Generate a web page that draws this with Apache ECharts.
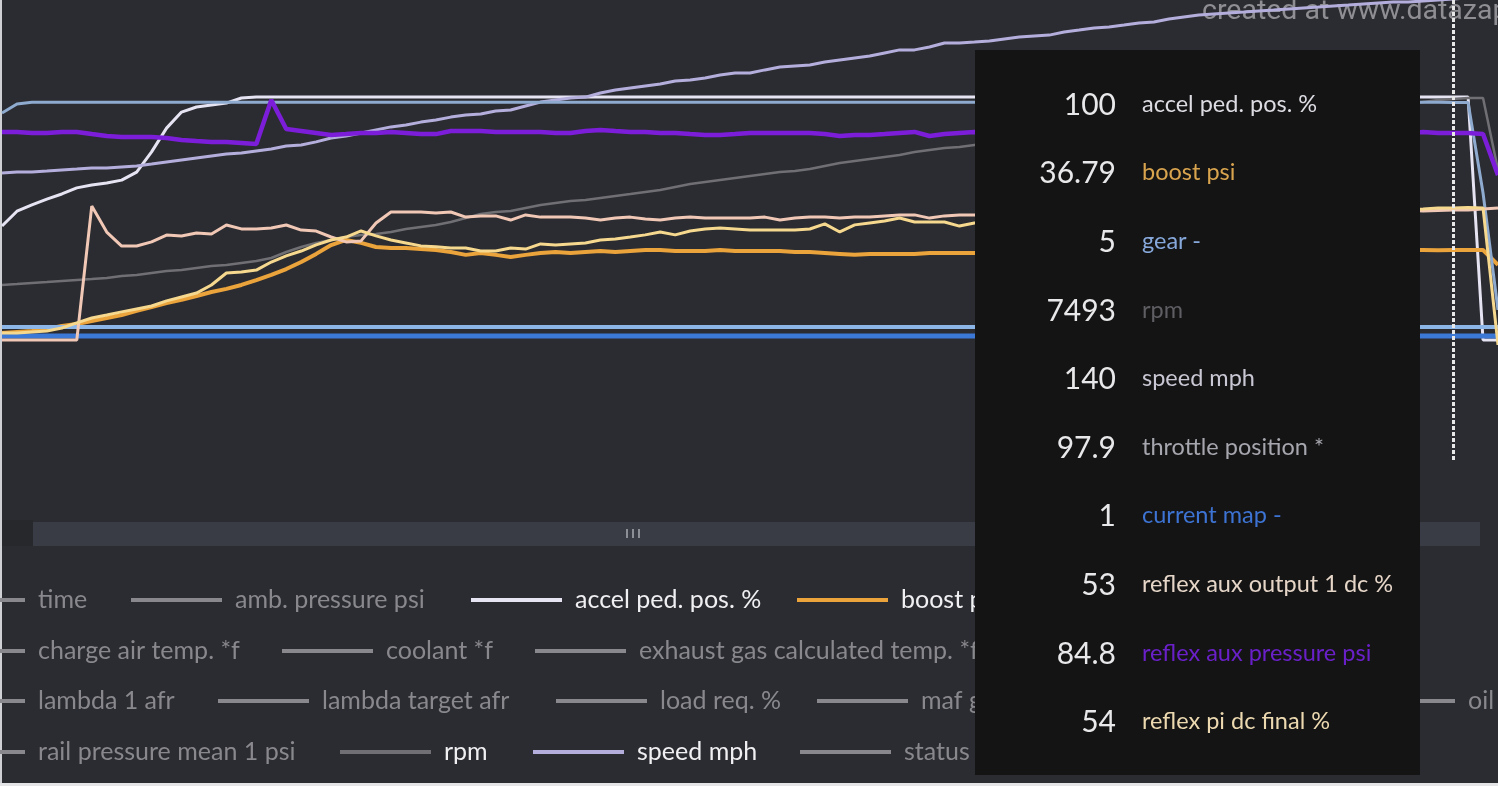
<!DOCTYPE html>
<html>
<head>
<meta charset="utf-8">
<script src="https://cdn.jsdelivr.net/npm/echarts@6/dist/echarts.min.js"></script>
<style>
html,body{margin:0;padding:0;background:#2b2c31;overflow:hidden}
#c{width:1498px;height:786px}
</style>
</head>
<body>
<div id="c"></div>
<script>
// ---------------- DATA ----------------
const samples = [0,1,2,3,4,5,6,7,8,9,10,11,12,13,14,15,16,17,18,19,20,21,22,23,24,25,26,27,28,29,30,31,32,33,34,35,36,37,38,39,40,41,42,43,44,45,46,47,48,49,50,51,52,53,54,55,56,57,58,59,60,61,62,63,64,65,66,67,68,69,70,71,72,73,74,75,76,77,78,79,80,81,82,83,84,85,86,87,88,89,90,91,92,93,94,95,96,97,98,99,100];

const accelPedPos = [46.9,53.0,55.6,58.0,60.1,62.6,63.8,64.6,65.8,69.1,77.4,87.2,93.8,95.9,96.7,97.5,99.6,
100,100,100,100,100,100,100,100,100,100,
100,100,100,100,100,100,100,100,100,100,
100,100,100,100,100,100,100,100,100,100,
100,100,100,100,100,100,100,100,100,100,
100,100,100,100,100,100,100,100,100,100,
100,100,100,100,100,100,100,100,100,100,
100,100,100,100,100,100,100,100,100,100,
100,100,100,100,100,100,100,100,100,100,
100,100,
0,0];

const boostPsi = [2.9,3.3,3.7,4.5,5.7,6.5,7.8,9.0,10.2,11.9,
13.5,15.1,16.4,18.0,19.6,20.9,22.5,24.5,26.6,29.0,
31.9,35.2,38.8,40.9,39.7,38.0,37.6,37.6,37.2,36.8,
36.0,34.8,35.6,34.8,33.9,34.8,35.6,36.0,35.6,36.0,
36.4,36.0,36.4,36.8,36.8,36.4,36.4,36.4,36.8,36.4,
36.4,36.4,36.4,36.0,36.0,35.6,35.2,34.8,35.2,35.2,
35.2,35.2,35.6,35.6,35.6,35.6,35.6,35.4,35.8,36.0,
35.7,35.9,36.1,35.8,36.2,36.0,36.3,36.1,35.9,36.2,
36.4,36.3,36.5,36.2,36.4,36.6,36.5,36.7,36.4,36.6,
36.8,36.7,36.9,36.6,36.8,36.8,36.7,36.79,36.8,36.8,
30.7];

const gear = [5,5,5,5,5,5,5,5,5,5, 5,5,5,5,5,5,5,5,5,5, 5,5,5,5,5,5,5,5,5,5, 5,5,5,5,5,5,5,5,5,5,
5,5,5,5,5,5,5,5,5,5, 5,5,5,5,5,5,5,5,5,5, 5,5,5,5,5,5,5,5,5,5, 5,5,5,5,5,5,5,5,5,5,
5,5,5,5,5,5,5,5,5,5, 5,5,5,5,5,5,5,5,5,5, 5];

const rpm = [3500,3521,3543,3564,3586,3607,3628,3650,3693,3714,
3757,3800,3822,3865,3908,3929,3972,4015,4079,4208,
4316,4401,4466,4530,4573,4595,4638,4702,4745,4788,
4852,4938,5024,5067,5088,5153,5217,5260,5303,5325,
5368,5411,5453,5496,5539,5604,5668,5711,5754,5797,
5840,5883,5926,5947,5990,6055,6119,6162,6205,6248,
6291,6355,6398,6441,6462,6505,6548,6569,6591,6634,
6656,6699,6720,6763,6785,6806,6849,6870,6892,6935,
6956,6999,7021,7042,7085,7107,7150,7171,7192,7235,
7257,7278,7321,7343,7386,7429,7472,7493,7514,7514,
5969];

const speedMph = [60.0,60.5,60.5,60.9,61.4,61.8,62.3,62.3,62.8,63.2,
64.1,65.1,66.0,66.9,67.8,68.7,69.2,70.1,71.0,72.4,
72.9,74.3,76.1,77.0,78.4,79.8,81.2,82.1,83.4,84.4,
85.7,86.7,87.1,88.5,89.0,90.8,92.6,93.6,94.5,94.9,
96.8,98.2,99.1,100.0,100.9,102.3,102.8,103.7,105.1,106.0,
106.0,107.4,108.7,109.2,109.7,111.0,112.0,112.9,113.8,115.2,
116.6,116.6,117.9,119.8,119.8,120.2,120.7,121.6,122.5,123.0,
123.4,124.8,125.7,126.7,127.1,128.0,129.0,129.4,130.8,131.7,
132.6,133.1,133.6,134.0,134.5,134.9,135.4,135.9,136.3,136.8,
137.2,137.7,138.2,138.6,138.6,139.1,139.5,140,140.5,140.5,
140.9];

const throttlePos = [93.6,97.3,
98.0,98.0,98.0,98.0,98.0,98.0,98.0,98.0,98.0,98.0,
98.0,98.0,98.0,98.0,98.0,98.0,98.0,98.0,98.0,98.0,
98.0,98.0,98.0,98.0,98.0,98.0,98.0,98.0,98.0,98.0,
98.0,98.0,98.0,98.0,98.0,98.0,98.0,98.0,98.0,98.0,
98.0,98.0,98.0,98.0,98.0,98.0,98.0,98.0,98.0,98.0,
98.0,98.0,98.0,98.0,98.0,98.0,98.0,98.0,98.0,98.0,
98.0,98.0,98.0,98.0,98.0,98.0,98.0,98.0,98.0,98.0,
98.0,98.0,98.0,98.0,98.0,98.0,98.0,98.0,98.0,98.0,
98.0,98.0,98.0,98.0,98.0,98.0,98.0,98.0,98.0,98.0,
98.0,98.0,98.0,98.0,98.0,
97.9,97.9,60.6,12.4];

const currentMap = [1,1,1,1,1,1,1,1,1,1, 1,1,1,1,1,1,1,1,1,1, 1,1,1,1,1,1,1,1,1,1, 1,1,1,1,1,1,1,1,1,1,
1,1,1,1,1,1,1,1,1,1, 1,1,1,1,1,1,1,1,1,1, 1,1,1,1,1,1,1,1,1,1, 1,1,1,1,1,1,1,1,1,1,
1,1,1,1,1,1,1,1,1,1, 1,1,1,1,1,1,1,1,1,1, 1];

const reflexAuxOutput = [0,0,0,0,0,0,54.6,44.0,38.3,38.3,
40.0,42.8,42.4,43.6,43.2,46.9,45.3,45.3,45.7,46.9,
44.8,44.4,42.0,40.0,40.4,47.7,52.2,52.2,52.2,51.8,
52.2,50.1,50.6,50.6,48.9,51.0,50.1,50.1,50.1,49.7,
48.9,49.7,50.1,49.3,48.9,49.7,50.1,49.7,49.7,49.7,
49.7,50.1,48.9,49.7,50.1,50.1,49.7,50.1,50.1,50.6,
51.0,51.0,49.7,50.6,51.0,51.0,50.6,51.0,51.4,50.8,
51.2,51.0,51.6,51.3,51.0,51.8,51.5,51.2,51.9,51.6,
52.0,51.7,52.2,51.9,52.3,52.0,52.4,52.1,52.6,52.3,
52.7,52.4,52.8,52.5,52.9,52.6,52.8,53,53.0,53.4,
53.8];

const reflexAuxPressure = [85.3,85.3,84.8,84.8,85.3,85.3,84.3,83.4,83.0,83.0,
83.0,82.5,81.6,81.1,80.7,80.7,80.2,79.7,100.0,86.6,
85.7,84.8,83.9,84.3,84.8,84.8,85.3,84.8,84.3,84.3,
85.7,85.7,85.7,85.3,85.3,85.3,85.3,84.8,84.8,85.7,
86.2,85.7,85.3,85.3,84.8,84.8,84.3,83.9,83.9,84.3,
84.8,84.8,84.8,84.8,84.8,84.3,83.4,83.9,83.9,84.3,
84.8,85.3,83.4,84.3,84.8,85.3,85.0,84.6,84.9,85.2,
84.7,84.4,84.8,85.1,84.9,84.5,84.8,85.0,84.6,84.9,
85.2,84.8,84.5,84.7,85.0,84.9,84.6,84.8,85.1,84.7,
84.9,84.6,84.8,85.0,84.7,85.3,84.8,84.8,84.8,84.3,
65.4];

const reflexPiDcFinal = [2.9,2.9,3.3,3.7,4.9,7.0,9.0,10.2,11.5,12.7,
13.9,16.0,17.6,19.2,22.5,27.4,27.8,28.6,31.9,34.4,
36.4,38.9,40.9,42.1,44.6,42.6,40.9,39.7,38.5,38.1,
37.6,37.6,36.4,36.4,37.6,37.2,39.3,38.9,39.3,39.7,
40.9,41.3,42.1,43.0,44.2,43.0,44.6,45.4,45.8,45.4,
45.0,45.0,45.0,45.0,45.4,47.5,44.2,47.1,47.9,48.7,
49.9,48.3,48.3,48.3,46.6,47.9,48.4,47.6,48.8,49.2,
48.5,49.6,50.1,49.4,50.3,50.8,50.0,51.0,51.4,50.7,
51.6,52.0,51.3,52.2,52.5,51.9,52.7,53.0,52.4,53.1,
53.4,52.9,53.5,53.8,53.3,53.6,54.0,54,54.2,54.0,
-2.0];

// channel names shown in the legend but not plotted (deselected)
const hiddenChannels = ['time','amb. pressure psi','charge air temp. *f','coolant *f',
  'exhaust gas calculated temp. *f','lambda 1 afr','lambda target afr','load req. %',
  'maf g/s','oil temp. *f','rail pressure mean 1 psi','status -'];

const hoverIndex = 97;

// ---------------- STYLE / LAYOUT ----------------
const GRID_H = 460;
function axisFromAnchors(vA, yA, vB, yB) {
  const fA = 1 - yA / GRID_H, fB = 1 - yB / GRID_H;
  const span = (vA - vB) / (fA - fB);
  const min = vA - fA * span;
  return { min: min, max: min + span };
}

const channels = [
  { name: 'accel ped. pos. %', data: accelPedPos, color: '#e6e4f3', width: 3, label: '#dcdce2', anchors: [0, 340, 100, 97] },
  { name: 'boost psi', data: boostPsi, color: '#eba33b', width: 4, label: '#d9a44e', anchors: [0, 340, 36.79, 250] },
  { name: 'gear -', data: gear, color: '#8cb5e8', width: 4, label: '#86a8da', anchors: [5, 327, 1, 420] },
  { name: 'rpm', data: rpm, color: '#6f6f74', width: 2.5, label: '#5e5e63', anchors: [3500, 285, 7493, 99] },
  { name: 'speed mph', data: speedMph, color: '#b4aedd', width: 3, label: '#c9c7d3', anchors: [60, 173, 140, -1] },
  { name: 'throttle position *', data: throttlePos, color: '#8eaacf', width: 3, label: '#a6a6ae', anchors: [0, 340, 97.9, 102.5] },
  { name: 'current map -', data: currentMap, color: '#3c79d6', width: 5, label: '#3d73d2', anchors: [1, 336, 0, 400] },
  { name: 'reflex aux output 1 dc %', data: reflexAuxOutput, color: '#f1c8b6', width: 3, label: '#e6d6c8', anchors: [0, 340, 53, 210] },
  { name: 'reflex aux pressure psi', data: reflexAuxPressure, color: '#7c1ed9', width: 4.5, label: '#6a20c8', anchors: [84.8, 133, 100, 100] },
  { name: 'reflex pi dc final %', data: reflexPiDcFinal, color: '#f6d98e', width: 3, label: '#ecd9b0', anchors: [0, 340, 54, 208] }
];

const rowCenters = [600, 651, 701, 752];
const legendLayout = [
  { name: 'time', left: -66, row: 0 },
  { name: 'amb. pressure psi', left: 131, row: 0 },
  { name: 'accel ped. pos. %', left: 471, row: 0 },
  { name: 'boost psi', left: 797, row: 0 },
  { name: 'charge air temp. *f', left: -66, row: 1 },
  { name: 'coolant *f', left: 282, row: 1 },
  { name: 'exhaust gas calculated temp. *f', left: 535, row: 1 },
  { name: 'lambda 1 afr', left: -66, row: 2 },
  { name: 'lambda target afr', left: 218, row: 2 },
  { name: 'load req. %', left: 556, row: 2 },
  { name: 'maf g/s', left: 817, row: 2 },
  { name: 'oil temp. *f', left: 1364, row: 2 },
  { name: 'rail pressure mean 1 psi', left: -66, row: 3 },
  { name: 'rpm', left: 340, row: 3 },
  { name: 'speed mph', left: 533, row: 3 },
  { name: 'status -', left: 800, row: 3 }
];

const labelColors = {};
channels.forEach(c => { labelColors[c.name] = c.label; });

const yAxes = channels.map(c => {
  const r = axisFromAnchors(c.anchors[0], c.anchors[1], c.anchors[2], c.anchors[3]);
  return { type: 'value', show: false, min: r.min, max: r.max, splitLine: { show: false } };
});

const series = channels.map((c, i) => ({
  name: c.name,
  type: 'line',
  data: c.data,
  yAxisIndex: i,
  symbol: 'none',
  showSymbol: false,
  emphasis: { disabled: true },
  lineStyle: { color: c.color, width: c.width },
  itemStyle: { color: c.color },
  z: 2
})).concat(hiddenChannels.map(n => ({
  name: n, type: 'line', data: [], symbol: 'none', itemStyle: { color: '#88888d' }
})));

const legends = legendLayout.map(l => ({
  data: [l.name],
  left: l.left,
  top: rowCenters[l.row] - 16,
  padding: 0,
  icon: 'rect',
  itemWidth: 91,
  itemHeight: 4,
  itemStyle: { borderWidth: 0 },
  inactiveColor: '#88888d',
  inactiveBorderColor: '#88888d',
  selected: { [l.name]: hiddenChannels.indexOf(l.name) < 0 },
  textStyle: { color: '#f0f0f2', fontSize: 25, fontFamily: 'Lato', lineHeight: 32, padding: [0, 0, 0, 8] }
}));

const chart = echarts.init(document.getElementById('c'), null, { renderer: 'canvas' });
chart.setOption({
  animation: false,
  backgroundColor: '#2b2c31',
  grid: { left: 2, right: 0, top: 0, bottom: 786 - GRID_H },
  xAxis: { type: 'category', data: samples, boundaryGap: false, show: false },
  yAxis: yAxes,
  legend: legends,
  tooltip: {
    trigger: 'axis',
    triggerOn: 'none',
    alwaysShowContent: true,
    position: [975, 50],
    transitionDuration: 0,
    backgroundColor: '#141415',
    borderWidth: 0,
    padding: 0,
    extraCssText: 'width:445px;height:725px;border-radius:0;box-shadow:none;box-sizing:border-box;',
    axisPointer: { type: 'line', animation: false, lineStyle: { color: '#e8e8e8', width: 3, type: [4, 2] } },
    formatter: function (params) {
      let html = '<div style="padding-top:19px">';
      params.forEach(p => {
        html += '<div style="display:flex;align-items:center;height:68.6px">' +
          '<span style="display:inline-block;width:141px;text-align:right;font-family:Lato;font-size:30px;color:#e8e8ea">' + p.value + '</span>' +
          '<span style="margin-left:26px;font-family:Lato;font-size:23.5px;color:' + labelColors[p.seriesName] + '">' + p.seriesName + '</span></div>';
      });
      return html + '</div>';
    }
  },
  graphic: [
    { type: 'rect', shape: { x: 0, y: 0, width: 2, height: 786 }, style: { fill: '#cfd0d3' }, z: 0 },
    { type: 'rect', shape: { x: 0, y: 783, width: 1498, height: 3 }, style: { fill: '#e4e4e6' }, z: 0 },
    { type: 'rect', shape: { x: 2, y: 520, width: 31, height: 26 }, style: { fill: '#27282c' }, z: 0 },
    { type: 'rect', shape: { x: 33, y: 522, width: 1447, height: 24 }, style: { fill: '#393c45' }, z: 0 },
    { type: 'rect', shape: { x: 626, y: 529, width: 2, height: 9 }, style: { fill: '#8d8f96' }, z: 1 },
    { type: 'rect', shape: { x: 632, y: 529, width: 2, height: 9 }, style: { fill: '#8d8f96' }, z: 1 },
    { type: 'rect', shape: { x: 638, y: 529, width: 2, height: 9 }, style: { fill: '#8d8f96' }, z: 1 },
    { type: 'text', x: 1202, y: 12, style: { text: 'created at www.datazap.me', fill: '#8e8e93', fontSize: 28.5, fontFamily: 'Roboto', verticalAlign: 'middle' }, z: 1 }
  ],
  series: series
});
chart.dispatchAction({ type: 'showTip', seriesIndex: 0, dataIndex: hoverIndex });
</script>
</body>
</html>
